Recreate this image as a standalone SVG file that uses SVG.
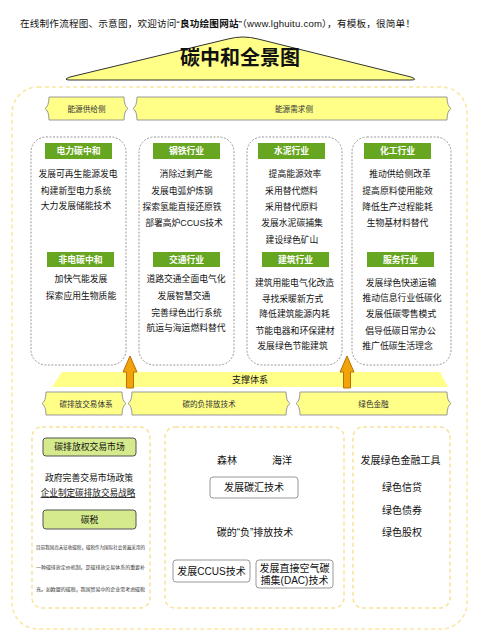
<svg xmlns="http://www.w3.org/2000/svg" width="480" height="644" viewBox="0 0 480 644">
<defs>
<style>
text{font-family:"Liberation Sans","Noto Sans CJK SC",sans-serif;fill:#111;}
.item{font-size:8.8px;text-anchor:middle;}
.hdr{font-size:8.8px;text-anchor:middle;fill:#fff;font-weight:bold;}
.hbox{fill:#66A620;}
.col{fill:#fff;stroke:#999;stroke-width:1;stroke-dasharray:2 1.5;}
.ban{fill:#FFFF88;stroke:#999;stroke-width:1;}
.bant{font-size:7.6px;text-anchor:middle;fill:#333;}
.ybox{fill:#fff;stroke:#F8E39A;stroke-width:1.5;stroke-dasharray:4 3;}
.gbox{fill:#D4EA8C;stroke:#555;stroke-width:1;}
.wbox{fill:#fff;stroke:#999;stroke-width:1;}
.t10{font-size:10px;text-anchor:middle;}
.orange{fill:#F0A30A;stroke:#BD7000;stroke-width:1;}
</style>
<marker id="ah" viewBox="0 0 10 10" refX="9" refY="5" markerWidth="6" markerHeight="6" orient="auto"><path d="M0,1 L10,5 L0,9 Z" fill="#111"/></marker>
</defs>
<rect width="480" height="644" fill="#fff"/>

<text x="20" y="27" textLength="395" lengthAdjust="spacing" style="font-size:9.6px">在线制作流程图、示意图，欢迎访问“<tspan font-weight="bold">良功绘图网站</tspan>”（www.lghuitu.com），有模板，很简单！</text>

<g id="title">
<path d="M70,80 L410,80 Q419,80 411,77 L258,39 Q243,35 228,39 L70,77 Q62,80 70,80 Z" fill="#FFFF88" stroke="#333" stroke-width="1"/>
<text x="240" y="65" style="font-size:20px;font-weight:bold;text-anchor:middle">碳中和全景图</text>
</g>

<rect id="outer" x="12" y="87" width="455" height="542" rx="26" fill="none" stroke="#FBE6A0" stroke-width="1.5" stroke-dasharray="4 3"/>

<g id="supply">
<path class="ban" d="M49,97 L124,97 Q124,106 128,108.5 Q124,111 124,120 L49,120 Q49,111 45,108.5 Q49,106 49,97 Z"/>
<text class="bant" x="86.5" y="111.5">能源供给侧</text>
</g>
<g id="demand">
<path class="ban" d="M137,97 L447,97 Q447,106 451,108.5 Q447,111 447,120 L137,120 Q137,111 133,108.5 Q137,106 137,97 Z"/>
<text class="bant" x="294" y="111.5">能源需求侧</text>
</g>

<g id="col1">
<rect class="col" x="31" y="137" width="95" height="228" rx="15"/>
<rect class="hbox" x="45" y="143" width="67" height="16"/>
<text class="hdr" x="78.5" y="154">电力碳中和</text>
<text class="item" x="78" y="177">发展可再生能源发电</text>
<text class="item" x="76" y="194">构建新型电力系统</text>
<text class="item" x="76" y="209">大力发展储能技术</text>
<rect class="hbox" x="47" y="252" width="67" height="15"/>
<text class="hdr" x="80.5" y="262.5">非电碳中和</text>
<text class="item" x="81" y="282">加快气能发展</text>
<text class="item" x="81" y="299">探索应用生物质能</text>
</g>

<g id="col2">
<rect class="col" x="139" y="137" width="95" height="228" rx="15"/>
<rect class="hbox" x="153" y="143" width="67" height="16"/>
<text class="hdr" x="186.5" y="154">钢铁行业</text>
<text class="item" x="186" y="177">消除过剩产能</text>
<text class="item" x="182" y="194">发展电弧炉炼钢</text>
<text class="item" x="182" y="210">探索氢能直接还原铁</text>
<text class="item" x="184" y="226">部署高炉CCUS技术</text>
<rect class="hbox" x="153" y="252" width="67" height="15"/>
<text class="hdr" x="186.5" y="262.5">交通行业</text>
<text class="item" x="186" y="282">道路交通全面电气化</text>
<text class="item" x="184" y="299">发展智慧交通</text>
<text class="item" x="186.5" y="316">完善绿色出行系统</text>
<text class="item" x="186" y="331">航运与海运燃料替代</text>
</g>

<g id="col3">
<rect class="col" x="247" y="137" width="95" height="228" rx="15"/>
<rect class="hbox" x="258" y="143" width="67" height="16"/>
<text class="hdr" x="291.5" y="154">水泥行业</text>
<text class="item" x="295" y="177">提高能源效率</text>
<text class="item" x="291.5" y="194">采用替代燃料</text>
<text class="item" x="291.5" y="210">采用替代原料</text>
<text class="item" x="292" y="226">发展水泥碳捕集</text>
<text class="item" x="292" y="243">建设绿色矿山</text>
<rect class="hbox" x="262" y="252" width="67" height="15"/>
<text class="hdr" x="295.5" y="262.5">建筑行业</text>
<text class="item" x="294.5" y="286">建筑用能电气化改造</text>
<text class="item" x="292.5" y="302">寻找采暖新方式</text>
<text class="item" x="294.5" y="317">降低建筑能源内耗</text>
<text class="item" x="295" y="334">节能电器和环保建材</text>
<text class="item" x="292.5" y="349">发展绿色节能建筑</text>
</g>

<g id="col4">
<rect class="col" x="352" y="137" width="99" height="228" rx="15"/>
<rect class="hbox" x="364" y="143" width="67" height="16"/>
<text class="hdr" x="397.5" y="154">化工行业</text>
<text class="item" x="400" y="177">推动供给侧改革</text>
<text class="item" x="397.5" y="194">提高原料使用能效</text>
<text class="item" x="397.5" y="210">降低生产过程能耗</text>
<text class="item" x="397.5" y="226">生物基材料替代</text>
<rect class="hbox" x="367" y="252" width="67" height="15"/>
<text class="hdr" x="400.5" y="262.5">服务行业</text>
<text class="item" x="401" y="286">发展绿色快递运输</text>
<text class="item" x="402" y="301">推动信息行业低碳化</text>
<text class="item" x="401" y="317">发展低碳零售模式</text>
<text class="item" x="400.5" y="334">倡导低碳日常办公</text>
<text class="item" x="397.5" y="349">推广低碳生活理念</text>
</g>

<g id="support">
<path d="M62,372 L440,372 L448,387 L52,387 Z" fill="#FFFF88"/>
<text x="250" y="382.5" style="font-size:9px;text-anchor:middle">支撑体系</text>
</g>

<g id="connectors">
<path class="orange" d="M130,356 L137,372 L133.5,372 L133.5,388 L126.5,388 L126.5,372 L123,372 Z"/>
<path class="orange" d="M347,356 L354,372 L350.5,372 L350.5,388 L343.5,388 L343.5,372 L340,372 Z"/>
<line x1="256" y1="498" x2="256" y2="514" stroke="#111" stroke-width="0.8" marker-end="url(#ah)"/>
</g>

<g id="b1">
<path class="ban" d="M46,392 L122,392 Q122,401 126,403.5 Q122,406 122,415 L46,415 Q46,406 42,403.5 Q46,401 46,392 Z"/>
<text class="bant" x="86" y="406.5">碳排放交易体系</text>
</g>
<g id="b2">
<path class="ban" d="M132,392 L286,392 Q286,401 290,403.5 Q286,406 286,415 L132,415 Q132,406 128,403.5 Q132,401 132,392 Z"/>
<text class="bant" x="209" y="406.5">碳的负排放技术</text>
</g>
<g id="b3">
<path class="ban" d="M300,392 L447,392 Q447,401 451,403.5 Q447,406 447,415 L300,415 Q300,406 296,403.5 Q300,401 300,392 Z"/>
<text class="bant" x="373.5" y="406.5">绿色金融</text>
</g>

<g id="box1">
<rect class="ybox" x="32" y="427" width="118" height="181" rx="10"/>
<rect class="gbox" x="43" y="438" width="93" height="18" rx="3"/>
<text x="89.5" y="450" style="font-size:8.8px;text-anchor:middle">碳排放权交易市场</text>
<text x="89" y="481" style="font-size:8.8px;text-anchor:middle">政府完善交易市场政策</text>
<text x="88" y="496" style="font-size:8.6px;text-anchor:middle;text-decoration:underline">企业制定碳排放交易战略</text>
<rect class="gbox" x="43" y="510" width="93" height="19" rx="3"/>
<text x="89.5" y="522.5" style="font-size:8.8px;text-anchor:middle">碳税</text>
<text x="36" y="549" textLength="109" lengthAdjust="spacingAndGlyphs" style="font-size:4.5px;fill:#333">目前我国尚未征收碳税，碳税作为国际社会普遍采用的</text>
<text x="36" y="569" textLength="109" lengthAdjust="spacingAndGlyphs" style="font-size:4.5px;fill:#333">一种碳排放定价机制，是碳排放交易体系的重要补</text>
<text x="36" y="591" textLength="109" lengthAdjust="spacingAndGlyphs" style="font-size:4.5px;fill:#333">充。如欧盟的碳税，我国贸易中的企业需考虑碳税</text>
</g>

<g id="box2">
<rect class="ybox" x="165" y="427" width="179" height="181" rx="10"/>
<text class="t10" x="227" y="464">森林</text>
<text class="t10" x="282" y="464">海洋</text>
<rect class="wbox" x="210" y="477" width="88" height="21" rx="3"/>
<text class="t10" x="254" y="491">发展碳汇技术</text>
<text class="t10" x="255" y="536">碳的“负”排放技术</text>
<rect class="wbox" x="173" y="560" width="77" height="22" rx="3"/>
<text class="t10" x="211.5" y="575">发展CCUS技术</text>
<rect class="wbox" x="256" y="560" width="77" height="28" rx="3"/>
<text class="t10" x="294.5" y="571.5">发展直接空气碳</text>
<text class="t10" x="294.5" y="584">捕集(DAC)技术</text>
</g>

<g id="box3">
<rect class="ybox" x="353" y="427" width="97" height="181" rx="10"/>
<text class="t10" x="400.5" y="464">发展绿色金融工具</text>
<text class="t10" x="402" y="491">绿色信贷</text>
<text class="t10" x="402" y="514">绿色债券</text>
<text class="t10" x="402" y="536">绿色股权</text>
</g>
</svg>
